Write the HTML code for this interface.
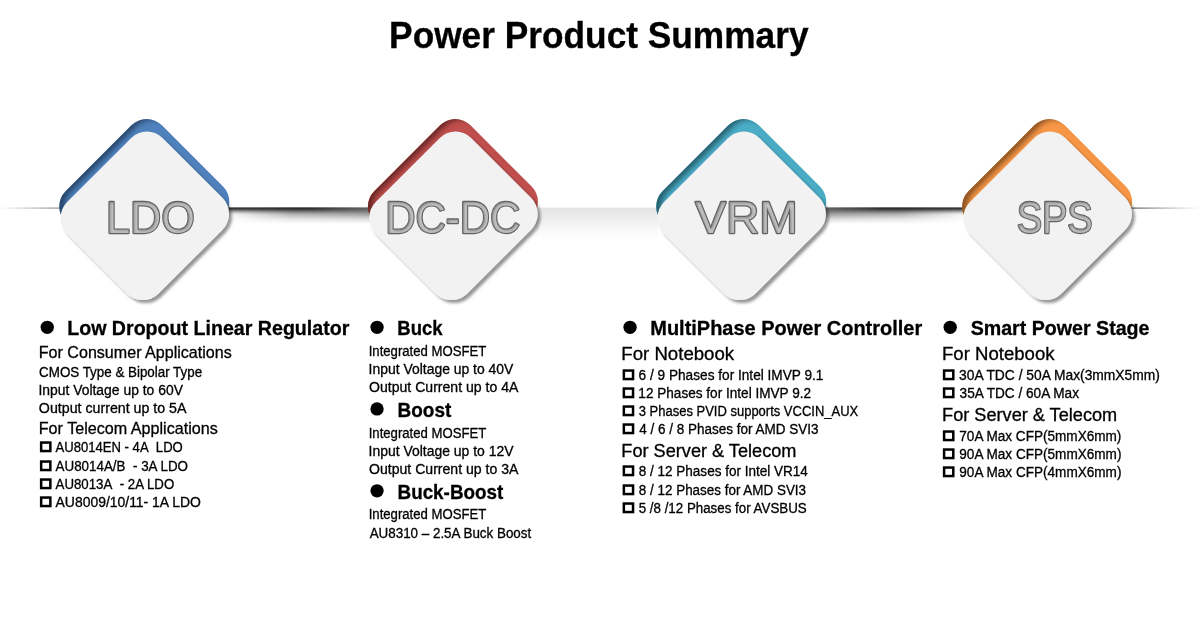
<!DOCTYPE html>
<html lang="en"><head><meta charset="utf-8"><title>Power Product Summary</title>
<style>
html,body{margin:0;padding:0;background:#fff;}
body{width:1200px;height:622px;overflow:hidden;}
svg{display:block;}
text{font-family:"Liberation Sans",sans-serif;fill:#000;stroke:#000;stroke-width:0.3px;}
.b{font-weight:bold;}
.lab{fill:#c2c2c2;stroke:#626262;stroke-width:2.3px;stroke-linejoin:round;paint-order:stroke fill;}
</style></head><body>
<svg width="1200" height="622" viewBox="0 0 1200 622">
<defs>
<filter id="ds" x="-20%" y="-20%" width="140%" height="140%">
<feGaussianBlur in="SourceAlpha" stdDeviation="1.5"/><feOffset dx="3.4" dy="2.5"/>
<feComponentTransfer><feFuncA type="linear" slope="0.42"/></feComponentTransfer>
<feMerge><feMergeNode/><feMergeNode in="SourceGraphic"/></feMerge></filter>
<filter id="ins" x="-10%" y="-10%" width="120%" height="120%">
<feComponentTransfer in="SourceAlpha" result="inv"><feFuncA type="table" tableValues="1 0"/></feComponentTransfer>
<feGaussianBlur in="inv" stdDeviation="2.7"/><feOffset dx="5.5" dy="1" result="ob"/>
<feFlood flood-color="#000" flood-opacity="0.7"/><feComposite in2="ob" operator="in"/>
<feComposite in2="SourceAlpha" operator="in" result="sh"/>
<feMerge><feMergeNode in="SourceGraphic"/><feMergeNode in="sh"/></feMerge></filter>
<filter id="tin" x="-5%" y="-10%" width="110%" height="120%" color-interpolation-filters="sRGB">
<feColorMatrix in="SourceGraphic" type="matrix" values="0 0 0 0 0 0 0 0 0 0 0 0 0 0 0 8 0 0 0 -4" result="fm"/>
<feComponentTransfer in="fm" result="inv"><feFuncA type="table" tableValues="1 0"/></feComponentTransfer>
<feGaussianBlur in="inv" stdDeviation="1.3"/><feOffset dx="0.6" dy="0.6" result="ob"/>
<feFlood flood-color="#000" flood-opacity="0.3"/><feComposite in2="ob" operator="in"/>
<feComposite in2="fm" operator="in" result="sh"/>
<feMerge><feMergeNode in="SourceGraphic"/><feMergeNode in="sh"/></feMerge></filter>
<linearGradient id="gl" x1="0" x2="1" y1="0" y2="0"><stop offset="0" stop-color="#8c8c8c" stop-opacity="0"/><stop offset="1" stop-color="#8c8c8c" stop-opacity="1"/></linearGradient>
<linearGradient id="gr" x1="0" x2="1" y1="0" y2="0"><stop offset="0" stop-color="#555" stop-opacity="1"/><stop offset="1" stop-color="#777" stop-opacity="0"/></linearGradient>
<linearGradient id="gm" x1="0" x2="0" y1="0" y2="1"><stop offset="0" stop-color="#e3e3e3"/><stop offset="0.35" stop-color="#eeeeee"/><stop offset="0.7" stop-color="#f8f8f8"/><stop offset="1" stop-color="#ffffff"/></linearGradient>
<linearGradient id="vA" x1="0" x2="0" y1="0" y2="1"><stop offset="0" stop-color="#000" stop-opacity="0.86"/><stop offset="0.2" stop-color="#000" stop-opacity="0.74"/><stop offset="0.45" stop-color="#000" stop-opacity="0.42"/><stop offset="0.72" stop-color="#000" stop-opacity="0.12"/><stop offset="1" stop-color="#000" stop-opacity="0"/></linearGradient>
<linearGradient id="vB" x1="0" x2="0" y1="0" y2="1"><stop offset="0" stop-color="#000" stop-opacity="0.56"/><stop offset="0.2" stop-color="#000" stop-opacity="0.5"/><stop offset="0.45" stop-color="#000" stop-opacity="0.34"/><stop offset="0.7" stop-color="#000" stop-opacity="0.13"/><stop offset="1" stop-color="#000" stop-opacity="0"/></linearGradient>
<linearGradient id="hA1" x1="0" x2="1" y1="0" y2="0"><stop offset="0" stop-color="#fff"/><stop offset="0.6" stop-color="#d8d8d8"/><stop offset="1" stop-color="#333"/></linearGradient>
<linearGradient id="hB1" x1="0" x2="1" y1="0" y2="0"><stop offset="0" stop-color="#111"/><stop offset="0.45" stop-color="#c4c4c4"/><stop offset="1" stop-color="#fff"/></linearGradient>
<linearGradient id="hA2" x1="1" x2="0" y1="0" y2="0"><stop offset="0" stop-color="#fff"/><stop offset="0.6" stop-color="#d8d8d8"/><stop offset="1" stop-color="#333"/></linearGradient>
<linearGradient id="hB2" x1="1" x2="0" y1="0" y2="0"><stop offset="0" stop-color="#111"/><stop offset="0.45" stop-color="#c4c4c4"/><stop offset="1" stop-color="#fff"/></linearGradient>
<mask id="mA1" maskUnits="userSpaceOnUse" x="227" y="200" width="143" height="40"><rect x="227" y="200" width="143" height="40" fill="url(#hA1)"/></mask>
<mask id="mB1" maskUnits="userSpaceOnUse" x="227" y="200" width="143" height="40"><rect x="227" y="200" width="143" height="40" fill="url(#hB1)"/></mask>
<mask id="mA2" maskUnits="userSpaceOnUse" x="824" y="200" width="142" height="40"><rect x="824" y="200" width="142" height="40" fill="url(#hA2)"/></mask>
<mask id="mB2" maskUnits="userSpaceOnUse" x="824" y="200" width="142" height="40"><rect x="824" y="200" width="142" height="40" fill="url(#hB2)"/></mask>
</defs>
<rect width="1200" height="622" fill="#fff"/>

<rect x="0" y="207.5" width="60" height="1.2" fill="url(#gl)"/>
<rect x="1131" y="207.5" width="69" height="1.2" fill="url(#gr)"/>
<rect x="536" y="207.6" width="122" height="31" fill="url(#gm)"/>
<g mask="url(#mA1)"><rect x="227" y="207.45" width="143" height="7.5" fill="url(#vA)"/></g><g mask="url(#mB1)"><rect x="227" y="207.45" width="143" height="16.5" fill="url(#vB)"/></g>
<g mask="url(#mA2)"><rect x="824" y="207.45" width="142" height="7.5" fill="url(#vA)"/></g><g mask="url(#mB2)"><rect x="824" y="207.45" width="142" height="16.5" fill="url(#vB)"/></g>
<g filter="url(#ins)"><rect x="-64.75" y="-68.1" width="129.5" height="136.2" rx="21.5" transform="translate(144.3,204.1) rotate(45)" fill="#4f81bd"/></g>
<g filter="url(#ds)"><rect x="-64.7" y="-67.65" width="129.4" height="135.3" rx="22.5" transform="translate(144.8,215.85) rotate(45)" fill="#f2f2f2"/></g>
<g filter="url(#ins)"><rect x="-64.75" y="-68.1" width="129.5" height="136.2" rx="21.5" transform="translate(452.9,204.1) rotate(45)" fill="#c0504d"/></g>
<g filter="url(#ds)"><rect x="-64.7" y="-67.65" width="129.4" height="135.3" rx="22.5" transform="translate(453.4,215.85) rotate(45)" fill="#f2f2f2"/></g>
<g filter="url(#ins)"><rect x="-64.75" y="-68.1" width="129.5" height="136.2" rx="21.5" transform="translate(741.2,204.1) rotate(45)" fill="#4bacc6"/></g>
<g filter="url(#ds)"><rect x="-64.7" y="-67.65" width="129.4" height="135.3" rx="22.5" transform="translate(741.7,215.85) rotate(45)" fill="#f2f2f2"/></g>
<g filter="url(#ins)"><rect x="-64.75" y="-68.1" width="129.5" height="136.2" rx="21.5" transform="translate(1047.1,204.1) rotate(45)" fill="#f79646"/></g>
<g filter="url(#ds)"><rect x="-64.7" y="-67.65" width="129.4" height="135.3" rx="22.5" transform="translate(1047.6,215.85) rotate(45)" fill="#f2f2f2"/></g>
<text id="lab0" class="lab" x="106.06" y="232.5" font-size="43.8" textLength="88.70" lengthAdjust="spacingAndGlyphs" filter="url(#tin)">LDO</text>
<text id="lab1" class="lab" x="385.24" y="232.5" font-size="43.8" textLength="135.04" lengthAdjust="spacingAndGlyphs" filter="url(#tin)">DC-DC</text>
<text id="lab2" class="lab" x="695.20" y="232.5" font-size="43.8" textLength="102.54" lengthAdjust="spacingAndGlyphs" filter="url(#tin)">VRM</text>
<text id="lab3" class="lab" x="1016.64" y="232.5" font-size="43.8" textLength="75.99" lengthAdjust="spacingAndGlyphs" filter="url(#tin)">SPS</text>
<text id="title" class="b" stroke="none" x="389.12" y="47.6" font-size="36" textLength="419.44" lengthAdjust="spacingAndGlyphs">Power Product Summary</text>
<circle cx="47.25" cy="327.3" r="6.65" fill="#000"/>
<circle cx="377.05" cy="327.3" r="6.65" fill="#000"/>
<circle cx="377.05" cy="408.95" r="6.65" fill="#000"/>
<circle cx="377.05" cy="490.8" r="6.65" fill="#000"/>
<circle cx="630.05" cy="327.3" r="6.65" fill="#000"/>
<circle cx="950.2" cy="327.3" r="6.65" fill="#000"/>
<rect x="41.15" y="442.55" width="9.2" height="8.5" fill="none" stroke="#000" stroke-width="2.5"/>
<rect x="41.15" y="461.55" width="9.2" height="8.5" fill="none" stroke="#000" stroke-width="2.5"/>
<rect x="41.15" y="479.55" width="9.2" height="8.5" fill="none" stroke="#000" stroke-width="2.5"/>
<rect x="41.15" y="497.55" width="9.2" height="8.5" fill="none" stroke="#000" stroke-width="2.5"/>
<rect x="623.85" y="370.55" width="9.2" height="8.5" fill="none" stroke="#000" stroke-width="2.5"/>
<rect x="623.85" y="388.55" width="9.2" height="8.5" fill="none" stroke="#000" stroke-width="2.5"/>
<rect x="623.85" y="406.55" width="9.2" height="8.5" fill="none" stroke="#000" stroke-width="2.5"/>
<rect x="623.85" y="424.55" width="9.2" height="8.5" fill="none" stroke="#000" stroke-width="2.5"/>
<rect x="623.85" y="466.55" width="9.2" height="8.5" fill="none" stroke="#000" stroke-width="2.5"/>
<rect x="623.85" y="485.55" width="9.2" height="8.5" fill="none" stroke="#000" stroke-width="2.5"/>
<rect x="623.85" y="503.55" width="9.2" height="8.5" fill="none" stroke="#000" stroke-width="2.5"/>
<rect x="944.10" y="370.55" width="9.2" height="8.5" fill="none" stroke="#000" stroke-width="2.5"/>
<rect x="944.10" y="388.55" width="9.2" height="8.5" fill="none" stroke="#000" stroke-width="2.5"/>
<rect x="944.10" y="431.55" width="9.2" height="8.5" fill="none" stroke="#000" stroke-width="2.5"/>
<rect x="944.10" y="449.55" width="9.2" height="8.5" fill="none" stroke="#000" stroke-width="2.5"/>
<rect x="944.10" y="467.55" width="9.2" height="8.5" fill="none" stroke="#000" stroke-width="2.5"/>
<text id="t0" class="b" x="67.20" y="335" font-size="19.7" textLength="282.14" lengthAdjust="spacingAndGlyphs">Low Dropout Linear Regulator</text>
<text id="t1" x="38.80" y="358" font-size="16.6" textLength="192.91" lengthAdjust="spacingAndGlyphs">For Consumer Applications</text>
<text id="t2" x="39.09" y="377" font-size="14.0" textLength="163.05" lengthAdjust="spacingAndGlyphs">CMOS Type &amp; Bipolar Type</text>
<text id="t3" x="38.45" y="395" font-size="14.0" textLength="144.47" lengthAdjust="spacingAndGlyphs">Input Voltage up to 60V</text>
<text id="t4" x="38.89" y="413" font-size="14.0" textLength="147.60" lengthAdjust="spacingAndGlyphs">Output current up to 5A</text>
<text id="t5" x="38.75" y="434" font-size="16.6" textLength="179.03" lengthAdjust="spacingAndGlyphs">For Telecom Applications</text>
<text id="t6" x="55.57" y="452" font-size="14.0" textLength="127.20" lengthAdjust="spacingAndGlyphs">AU8014EN - 4A  LDO</text>
<text id="t7" x="55.56" y="471" font-size="14.0" textLength="132.49" lengthAdjust="spacingAndGlyphs">AU8014A/B  - 3A LDO</text>
<text id="t8" x="55.54" y="489" font-size="14.0" textLength="118.73" lengthAdjust="spacingAndGlyphs">AU8013A  - 2A LDO</text>
<text id="t9" x="55.56" y="507" font-size="14.0" textLength="145.37" lengthAdjust="spacingAndGlyphs">AU8009/10/11- 1A LDO</text>
<text id="t10" class="b" x="397.31" y="335" font-size="19.7" textLength="45.17" lengthAdjust="spacingAndGlyphs">Buck</text>
<text id="t11" x="368.67" y="356" font-size="14.0" textLength="117.70" lengthAdjust="spacingAndGlyphs">Integrated MOSFET</text>
<text id="t12" x="368.62" y="374" font-size="14.0" textLength="144.73" lengthAdjust="spacingAndGlyphs">Input Voltage up to 40V</text>
<text id="t13" x="369.05" y="392" font-size="14.0" textLength="149.29" lengthAdjust="spacingAndGlyphs">Output Current up to 4A</text>
<text id="t14" class="b" x="397.51" y="417" font-size="19.7" textLength="53.79" lengthAdjust="spacingAndGlyphs">Boost</text>
<text id="t15" x="368.67" y="438" font-size="14.0" textLength="117.70" lengthAdjust="spacingAndGlyphs">Integrated MOSFET</text>
<text id="t16" x="368.59" y="456" font-size="14.0" textLength="144.95" lengthAdjust="spacingAndGlyphs">Input Voltage up to 12V</text>
<text id="t17" x="369.05" y="474" font-size="14.0" textLength="149.31" lengthAdjust="spacingAndGlyphs">Output Current up to 3A</text>
<text id="t18" class="b" x="397.53" y="499" font-size="19.7" textLength="105.77" lengthAdjust="spacingAndGlyphs">Buck-Boost</text>
<text id="t19" x="368.67" y="519" font-size="14.0" textLength="117.70" lengthAdjust="spacingAndGlyphs">Integrated MOSFET</text>
<text id="t20" x="369.67" y="538" font-size="14.0" textLength="161.56" lengthAdjust="spacingAndGlyphs">AU8310 – 2.5A Buck Boost</text>
<text id="t21" class="b" x="650.24" y="335" font-size="19.7" textLength="271.97" lengthAdjust="spacingAndGlyphs">MultiPhase Power Controller</text>
<text id="t22" x="621.32" y="360" font-size="17.6" textLength="112.84" lengthAdjust="spacingAndGlyphs">For Notebook</text>
<text id="t23" x="638.58" y="380" font-size="14.0" textLength="184.87" lengthAdjust="spacingAndGlyphs">6 / 9 Phases for Intel IMVP 9.1</text>
<text id="t24" x="638.34" y="398" font-size="14.0" textLength="172.75" lengthAdjust="spacingAndGlyphs">12 Phases for Intel IMVP 9.2</text>
<text id="t25" x="638.78" y="416" font-size="14.0" textLength="219.45" lengthAdjust="spacingAndGlyphs">3 Phases PVID supports VCCIN_AUX</text>
<text id="t26" x="639.19" y="434" font-size="14.0" textLength="179.22" lengthAdjust="spacingAndGlyphs">4 / 6 / 8 Phases for AMD SVI3</text>
<text id="t27" x="621.36" y="457" font-size="17.6" textLength="175.05" lengthAdjust="spacingAndGlyphs">For Server &amp; Telecom</text>
<text id="t28" x="638.76" y="476" font-size="14.0" textLength="169.05" lengthAdjust="spacingAndGlyphs">8 / 12 Phases for Intel VR14</text>
<text id="t29" x="638.85" y="495" font-size="14.0" textLength="167.19" lengthAdjust="spacingAndGlyphs">8 / 12 Phases for AMD SVI3</text>
<text id="t30" x="638.69" y="513" font-size="14.0" textLength="168.05" lengthAdjust="spacingAndGlyphs">5 /8 /12 Phases for AVSBUS</text>
<text id="t31" class="b" x="970.66" y="335" font-size="19.7" textLength="178.83" lengthAdjust="spacingAndGlyphs">Smart Power Stage</text>
<text id="t32" x="941.97" y="360" font-size="17.6" textLength="112.55" lengthAdjust="spacingAndGlyphs">For Notebook</text>
<text id="t33" x="959.06" y="380" font-size="14.0" textLength="200.78" lengthAdjust="spacingAndGlyphs">30A TDC / 50A Max(3mmX5mm)</text>
<text id="t34" x="959.62" y="398" font-size="14.0" textLength="119.40" lengthAdjust="spacingAndGlyphs">35A TDC / 60A Max</text>
<text id="t35" x="942.10" y="421" font-size="17.6" textLength="175.06" lengthAdjust="spacingAndGlyphs">For Server &amp; Telecom</text>
<text id="t36" x="959.30" y="441" font-size="14.0" textLength="162.09" lengthAdjust="spacingAndGlyphs">70A Max CFP(5mmX6mm)</text>
<text id="t37" x="959.33" y="459" font-size="14.0" textLength="162.08" lengthAdjust="spacingAndGlyphs">90A Max CFP(5mmX6mm)</text>
<text id="t38" x="959.33" y="477" font-size="14.0" textLength="162.08" lengthAdjust="spacingAndGlyphs">90A Max CFP(4mmX6mm)</text>
</svg></body></html>
